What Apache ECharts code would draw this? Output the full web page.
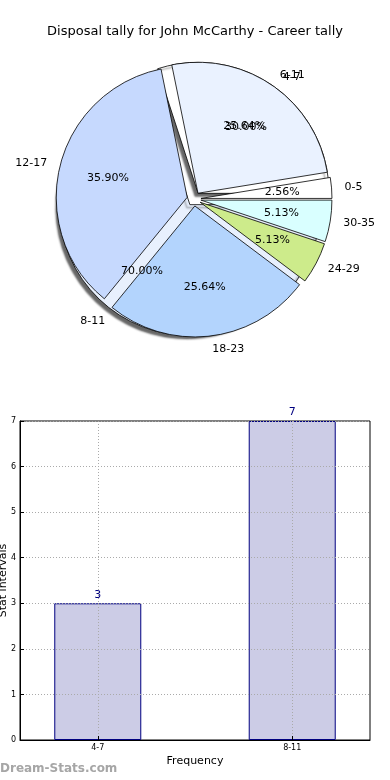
<!DOCTYPE html>
<html>
<head>
<meta charset="utf-8">
<script src="https://cdn.jsdelivr.net/npm/echarts@6/dist/echarts.min.js"></script>
<style>html,body{margin:0;padding:0;background:#fff}#c{width:390px;height:780px}</style>
</head>
<body>
<div id="c"></div>
<script>
var titleText = 'Disposal tally for John McCarthy - Career tally';
var pieCategories = ['0-5', '6-11', '12-17', '18-23', '24-29', '30-35'];
var pieValues = [1, 10, 14, 10, 2, 2];
var pieColors = ['#ffffff', '#eaf2ff', '#c6d9fe', '#b3d4fd', '#cdeb8b', '#d9ffff'];
var subCategories = ['4-7', '8-11'];
var subValues = [3, 7];
var subColors = ['#ffffff', '#e8f0fd'];
var barCategories = ['4-7', '8-11'];
var barValues = [3, 7];
var yMin = 0, yMax = 7, yStep = 1;

var FONT = 'DejaVu Sans';
var CX = 194, CY = 199, R = 131, OFF = 7;

function sum(a) { return a.reduce(function (s, v) { return s + v; }, 0); }
function pct(vals) {
  var t = sum(vals);
  return function (p) { return (vals[p.dataIndex] / t * 100).toFixed(2) + '%'; };
}
function mk(cats, vals, colors, selected) {
  return cats.map(function (c, i) {
    return { name: c, value: vals[i], selected: selected, itemStyle: { color: colors ? colors[i] : 'rgba(0,0,0,0)' } };
  });
}

var common = {
  type: 'pie', center: [CX, CY], startAngle: 0, clockwise: false,
  avoidLabelOverlap: false, animation: false, silent: true,
  selectedMode: 'multiple', selectedOffset: OFF,
  labelLayout: { hideOverlap: false },
  emphasis: { disabled: true }
};

var series = [
  // underlying pie
  Object.assign({}, common, {
    radius: [0, R],
    data: mk(subCategories, subValues, subColors, true),
    itemStyle: { borderColor: '#000', borderWidth: 0.8, shadowColor: 'rgba(0,0,0,0.6)', shadowBlur: 2, shadowOffsetX: -3, shadowOffsetY: 3 },
    label: { show: false }, labelLine: { show: false }
  }),
  Object.assign({}, common, {
    radius: [R * 0.2, R],
    data: mk(subCategories, subValues, null, true),
    itemStyle: { borderWidth: 0 },
    label: { show: true, position: 'inside', formatter: pct(subValues), color: '#000', fontFamily: FONT, fontSize: 11 },
    labelLine: { show: false }
  }),
  Object.assign({}, common, {
    radius: [0, R],
    data: mk(subCategories, subValues, null, true),
    itemStyle: { borderWidth: 0 },
    label: { show: true, position: 'outside', formatter: '{b}', color: '#000', fontFamily: FONT, fontSize: 11, distanceToLabelLine: 0 },
    labelLine: { show: false, length: R * 0.1, length2: 0 }
  }),
  // main pie
  Object.assign({}, common, {
    radius: [0, R],
    data: mk(pieCategories, pieValues, pieColors, true),
    itemStyle: { borderColor: '#000', borderWidth: 0.8 },
    label: { show: false }, labelLine: { show: false }
  }),
  Object.assign({}, common, {
    radius: [R * 0.2, R],
    data: mk(pieCategories, pieValues, null, true),
    itemStyle: { borderWidth: 0 },
    label: { show: true, position: 'inside', formatter: pct(pieValues), color: '#000', fontFamily: FONT, fontSize: 11 },
    labelLine: { show: false }
  }),
  Object.assign({}, common, {
    radius: [0, R],
    data: mk(pieCategories, pieValues, null, true),
    itemStyle: { borderWidth: 0 },
    label: { show: true, position: 'outside', formatter: '{b}', color: '#000', fontFamily: FONT, fontSize: 11, distanceToLabelLine: 0 },
    labelLine: { show: false, length: R * 0.1, length2: 0 }
  }),
  // bar chart
  {
    type: 'bar', xAxisIndex: 0, yAxisIndex: 0, z: 1,
    data: barValues.map(function (v, i) { return [i, v]; }),
    barWidth: 87,
    animation: false, silent: true,
    itemStyle: { color: '#cccce6', borderColor: '#000080', borderWidth: 1 },
    label: { show: true, position: 'top', color: '#000080', fontFamily: FONT, fontSize: 11, distance: 3 }
  }
];

var catIdx = barCategories.map(function (c, i) { return i; });

var chart = echarts.init(document.getElementById('c'), null, { renderer: 'canvas' });
chart.setOption({
  backgroundColor: '#fff',
  animation: false,
  title: { text: titleText, left: 'center', top: 20, textStyle: { fontFamily: FONT, fontSize: 13, fontWeight: 'normal', color: '#000' } },
  grid: { left: 20, right: 20, top: 421, bottom: 40, containLabel: false, outerBoundsMode: 'none', show: true, borderColor: '#000', borderWidth: 1, backgroundColor: 'transparent' },
  xAxis: {
    type: 'value', min: -0.4, max: 1.4, z: 5,
    name: 'Frequency', nameLocation: 'middle', nameGap: 16, nameMoveOverlap: false,
    nameTextStyle: { fontFamily: FONT, fontSize: 11, color: '#000' },
    axisLine: { show: true, onZero: false, lineStyle: { color: '#000' } },
    axisTick: { show: true, inside: true, length: 4, customValues: catIdx, lineStyle: { color: '#000' } },
    axisLabel: { fontFamily: FONT, fontSize: 8, color: '#000', margin: 4, customValues: catIdx,
      formatter: function (v) { return barCategories[Math.round(v)]; } },
    splitLine: { show: true, lineStyle: { color: '#aaaaaa', type: [1, 2] } }
  },
  yAxis: {
    type: 'value', min: yMin, max: yMax, interval: yStep, z: 5,
    name: 'Stat intervals', nameLocation: 'middle', nameGap: 11, nameRotate: 90, nameMoveOverlap: false,
    nameTextStyle: { fontFamily: FONT, fontSize: 11, color: '#000' },
    axisLine: { show: true, onZero: false, lineStyle: { color: '#000' } },
    axisTick: { show: true, inside: true, length: 4, lineStyle: { color: '#000' } },
    axisLabel: { fontFamily: FONT, fontSize: 8, color: '#000', margin: 4 },
    splitLine: { show: true, lineStyle: { color: '#aaaaaa', type: [1, 2] } }
  },
  graphic: [{
    type: 'text', left: 0, top: 763,
    style: { text: 'Dream-Stats.com', fill: '#a6a6a6', font: 'bold 12px "DejaVu Sans"' }
  }],
  series: series
});
</script>
</body>
</html>
